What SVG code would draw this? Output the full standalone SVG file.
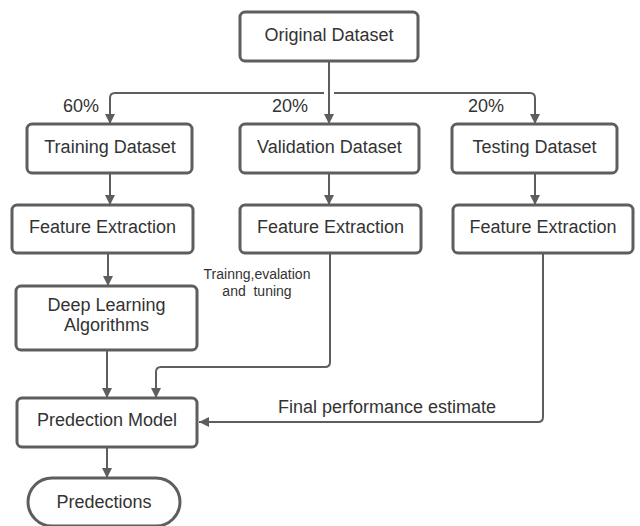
<svg xmlns="http://www.w3.org/2000/svg" width="640" height="526" viewBox="0 0 640 526">
  <defs>
    <marker id="arrow" viewBox="0 0 10 10" refX="10" refY="5" markerWidth="10" markerHeight="10" markerUnits="userSpaceOnUse" orient="auto">
      <path d="M0,0 L10,5 L0,10 Z" fill="#5e5e5e"/>
    </marker>
    <style>
      .box { fill: #ffffff; stroke: #5e5e5e; stroke-width: 3; }
      .edge { fill: none; stroke: #5e5e5e; stroke-width: 2; }
      .arr { marker-end: url(#arrow); }
      text { font-family: "Liberation Sans", Arial, sans-serif; fill: #333333; }
      .lbl { font-size: 18px; text-anchor: middle; }
      .pct { font-size: 18px; }
      .note { font-size: 14px; text-anchor: middle; }
      .note2 { font-size: 18px; }
    </style>
  </defs>
  <rect width="640" height="526" fill="#ffffff"/>

  <!-- connectors -->
  <g id="connectors">
    <path class="edge arr" d="M329,61 V124"/>
    <path class="edge arr" d="M324,93 H115 Q110,93 110,98 V124"/>
    <path class="edge arr" d="M334,93 H530 Q535,93 535,98 V124"/>
    <path class="edge arr" d="M110,173 V205"/>
    <path class="edge arr" d="M329,173 V205"/>
    <path class="edge arr" d="M535,173 V205"/>
    <path class="edge arr" d="M108,253 V286"/>
    <path class="edge arr" d="M107,350 V398"/>
    <path class="edge arr" d="M330,253 V362 Q330,367 325,367 H161 Q156,367 156,372 V398"/>
    <path class="edge arr" d="M543,253 V417 Q543,422 538,422 H199"/>
    <path class="edge arr" d="M107,447 V478"/>
  </g>

  <!-- edge labels -->
  <g id="labels">
    <text class="pct" x="63" y="112">60%</text>
    <text class="pct" x="272" y="112">20%</text>
    <text class="pct" x="468" y="112">20%</text>
    <text class="note" x="257" y="279">Trainng,evalation</text>
    <text class="note" x="257" y="296" xml:space="preserve">and  tuning</text>
    <text class="note2" x="278" y="413">Final performance estimate</text>
  </g>

  <g id="original">
    <rect class="box" x="240" y="12" width="178" height="49" rx="5"/>
    <text class="lbl" x="329" y="41">Original Dataset</text>
  </g>
  <g id="training">
    <rect class="box" x="27" y="124" width="165" height="49" rx="5"/>
    <text class="lbl" x="110" y="153">Training Dataset</text>
  </g>
  <g id="validation">
    <rect class="box" x="240" y="124" width="179" height="49" rx="5"/>
    <text class="lbl" x="329.5" y="153">Validation Dataset</text>
  </g>
  <g id="testing">
    <rect class="box" x="452" y="124" width="165" height="49" rx="5"/>
    <text class="lbl" x="534.5" y="153">Testing Dataset</text>
  </g>
  <g id="features-train">
    <rect class="box" x="12" y="205" width="181" height="48" rx="5"/>
    <text class="lbl" x="102.5" y="233">Feature Extraction</text>
  </g>
  <g id="features-val">
    <rect class="box" x="240" y="205" width="181" height="48" rx="5"/>
    <text class="lbl" x="330.5" y="233">Feature Extraction</text>
  </g>
  <g id="features-test">
    <rect class="box" x="453" y="205" width="180" height="48" rx="5"/>
    <text class="lbl" x="543" y="233">Feature Extraction</text>
  </g>
  <g id="deep-learning">
    <rect class="box" x="16" y="286" width="181" height="64" rx="5"/>
    <text class="lbl" x="106.5" y="311">Deep Learning</text>
    <text class="lbl" x="106.5" y="331">Algorithms</text>
  </g>
  <g id="prediction-model">
    <rect class="box" x="17" y="398" width="180" height="49" rx="5"/>
    <text class="lbl" x="107" y="426">Predection Model</text>
  </g>
  <g id="predictions">
    <rect class="box" x="28" y="478" width="152" height="48" rx="24"/>
    <text class="lbl" x="104" y="508">Predections</text>
  </g>
</svg>
